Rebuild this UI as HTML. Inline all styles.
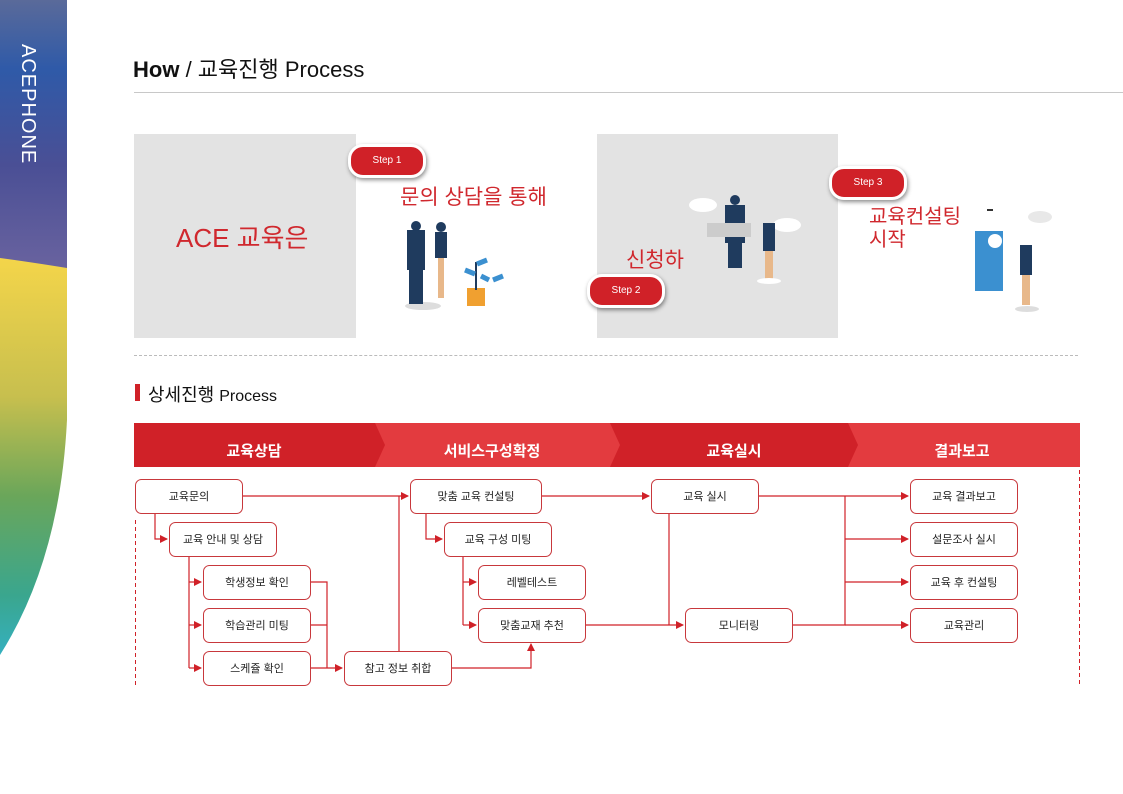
<!DOCTYPE html>
<html><head><meta charset="utf-8"><style>
body{margin:0;width:1123px;height:794px;background:#fff;overflow:hidden;position:relative;font-family:"Liberation Sans","Noto Sans CJK KR",sans-serif}
.a{position:absolute}
.step{position:absolute;width:72px;height:28px;border-radius:15px;background:#d02128;border:3px solid #fff;box-shadow:1px 2px 4px rgba(0,0,0,.45);color:#fff;font-size:10px;text-align:center;line-height:28px}
.red{color:#d0282e}
</style></head><body>
<svg class="a" style="left:0;top:0" width="70" height="794">
<defs>
<linearGradient id="g1" x1="0" y1="0" x2="0" y2="1"><stop offset="0" stop-color="#5a6a9a"/><stop offset=".25" stop-color="#2f5aa8"/><stop offset=".6" stop-color="#4a4f95"/><stop offset="1" stop-color="#6b64a0"/></linearGradient>
<linearGradient id="g2" x1="0" y1="0" x2="0" y2="1"><stop offset="0" stop-color="#f4d54a"/><stop offset=".35" stop-color="#c7bf4e"/><stop offset=".6" stop-color="#6aa65a"/><stop offset=".85" stop-color="#3aa68e"/><stop offset="1" stop-color="#35b0bf"/></linearGradient>
</defs>
<rect x="0" y="0" width="67" height="275" fill="url(#g1)"/>
<path d="M0 258 Q30 262 67 268 L67 420 Q60 560 0 655 Z" fill="url(#g2)"/>
<text x="22" y="44" fill="#fff" font-size="20" font-family="Liberation Sans" transform="rotate(90 22 44)" letter-spacing="1">ACEPHONE</text>
</svg>

<div class="a" style="left:133px;top:52px;font-size:22px;color:#111"><b>How</b> / 교육진행 Process</div>
<div class="a" style="left:134px;top:92px;width:989px;height:1px;background:#c8c8c8"></div>

<div class="a" style="left:134px;top:134px;width:222px;height:204px;background:#e3e3e3"></div>
<div class="a red" style="left:176px;top:218px;font-size:26px">ACE 교육은</div>
<div class="step" style="left:348px;top:144px">Step 1</div>
<div class="a red" style="left:400px;top:181px;font-size:21px">문의 상담을 통해</div>
<svg class="a" style="left:395px;top:220px" width="130" height="95">
<ellipse cx="28" cy="86" rx="18" ry="4" fill="#ddd"/>
<rect x="12" y="10" width="18" height="40" fill="#1f3b5e"/><rect x="14" y="48" width="14" height="36" fill="#1f3b5e"/><circle cx="21" cy="6" r="5" fill="#1f3b5e"/>
<rect x="40" y="12" width="12" height="26" fill="#1f3b5e"/><rect x="43" y="38" width="6" height="40" fill="#e8b88a"/><circle cx="46" cy="7" r="5" fill="#1f3b5e"/>
<rect x="72" y="68" width="18" height="18" fill="#f0a030"/><rect x="80" y="42" width="2" height="28" fill="#1f3b5e"/>
<path d="M70 50 l10 4 M82 44 l10-4 M98 60 l10-4 M94 60 l-8-4" stroke="#3b90d0" stroke-width="5"/>
</svg>

<div class="a" style="left:597px;top:134px;width:241px;height:204px;background:#e3e3e3"></div>
<div class="a red" style="left:626px;top:244px;font-size:21px">신청하</div>
<div class="step" style="left:587px;top:274px">Step 2</div>
<svg class="a" style="left:685px;top:195px" width="120" height="90">
<ellipse cx="18" cy="10" rx="14" ry="7" fill="#fff"/><ellipse cx="102" cy="30" rx="14" ry="7" fill="#fff"/>
<rect x="40" y="10" width="20" height="38" fill="#1f3b5e"/><rect x="43" y="48" width="14" height="25" fill="#1f3b5e"/><circle cx="50" cy="5" r="5" fill="#1f3b5e"/>
<rect x="22" y="28" width="44" height="14" fill="#ccc"/>
<rect x="78" y="28" width="12" height="28" fill="#1f3b5e"/><rect x="80" y="56" width="8" height="28" fill="#e8b88a"/><ellipse cx="84" cy="86" rx="12" ry="3" fill="#fff"/>
</svg>
<div class="step" style="left:829px;top:166px">Step 3</div>
<div class="a red" style="left:869px;top:206px;font-size:20px;line-height:23px">교육컨설팅<br>시작</div>
<svg class="a" style="left:965px;top:205px" width="95" height="110">
<ellipse cx="75" cy="12" rx="12" ry="6" fill="#e8e8e8"/>
<rect x="22" y="4" width="6" height="2" fill="#333"/>
<rect x="10" y="26" width="28" height="60" fill="#3b90d0"/><circle cx="30" cy="36" r="7" fill="#fff"/>
<rect x="55" y="40" width="12" height="30" fill="#1f3b5e"/><rect x="57" y="70" width="8" height="30" fill="#e8b88a"/><ellipse cx="62" cy="104" rx="12" ry="3" fill="#ddd"/>
</svg>

<div class="a" style="left:134px;top:355px;width:944px;border-top:1px dashed #bbb"></div>
<div class="a" style="left:135px;top:384px;width:5px;height:17px;background:#d02128"></div>
<div class="a" style="left:148px;top:381px;font-size:18px;color:#111">상세진행 <span style="font-size:16px">Process</span></div>

<svg class="a" style="left:0;top:0" width="1123" height="794" font-family="Liberation Sans, Noto Sans CJK KR, sans-serif">
<defs><marker id="ar" markerWidth="8" markerHeight="8" refX="7" refY="4" orient="auto" markerUnits="userSpaceOnUse"><path d="M0 0 L8 4 L0 8 Z" fill="#d02128"/></marker></defs>
<rect x="134" y="423" width="946" height="44" fill="#e33b3f"/>
<path d="M134 423 H375 L385 445 L375 467 H134 Z" fill="#d02128"/>
<path d="M610 423 H848 L858 445 L848 467 H610 L620 445 Z" fill="#d02128"/>
<g fill="#fff" font-size="15" font-weight="bold" text-anchor="middle">
<text x="254" y="456">교육상담</text><text x="492" y="456">서비스구성확정</text><text x="734" y="456">교육실시</text><text x="962" y="456">결과보고</text></g>
<line x1="135.5" y1="520" x2="135.5" y2="686" stroke="#d02128" stroke-width="1" stroke-dasharray="4,3"/>
<line x1="1079.5" y1="470" x2="1079.5" y2="686" stroke="#d02128" stroke-width="1" stroke-dasharray="4,3"/>
<g fill="none" stroke="#d02128" stroke-width="1.2">
<path d="M242 496 H408" marker-end="url(#ar)"/>
<path d="M399 651 V496"/>
<path d="M155 513 V539 H167" marker-end="url(#ar)"/>
<path d="M189 556 V668"/>
<path d="M189 582 H201" marker-end="url(#ar)"/><path d="M189 625 H201" marker-end="url(#ar)"/><path d="M189 668 H201" marker-end="url(#ar)"/>
<path d="M310 582 H327 V668 M310 625 H327"/><path d="M310 668 H342" marker-end="url(#ar)"/>
<path d="M451 668 H531 V644" marker-end="url(#ar)"/>
<path d="M426 513 V539 H442" marker-end="url(#ar)"/>
<path d="M463 556 V625"/><path d="M463 582 H476" marker-end="url(#ar)"/><path d="M463 625 H476" marker-end="url(#ar)"/>
<path d="M541 496 H649" marker-end="url(#ar)"/>
<path d="M585 625 H683" marker-end="url(#ar)"/><path d="M669 513 V625"/>
<path d="M758 496 H908" marker-end="url(#ar)"/>
<path d="M792 625 H845 V496"/><path d="M845 539 H908" marker-end="url(#ar)"/><path d="M845 582 H908" marker-end="url(#ar)"/><path d="M845 625 H908" marker-end="url(#ar)"/>
</g>
<g fill="#fff" stroke="#c8383c" stroke-width="1">
<rect x="135.5" y="479.5" width="107" height="34" rx="6"/><rect x="169.5" y="522.5" width="107" height="34" rx="6"/>
<rect x="203.5" y="565.5" width="107" height="34" rx="6"/><rect x="203.5" y="608.5" width="107" height="34" rx="6"/><rect x="203.5" y="651.5" width="107" height="34" rx="6"/>
<rect x="344.5" y="651.5" width="107" height="34" rx="6"/>
<rect x="410.5" y="479.5" width="131" height="34" rx="6"/><rect x="444.5" y="522.5" width="107" height="34" rx="6"/>
<rect x="478.5" y="565.5" width="107" height="34" rx="6"/><rect x="478.5" y="608.5" width="107" height="34" rx="6"/>
<rect x="651.5" y="479.5" width="107" height="34" rx="6"/><rect x="685.5" y="608.5" width="107" height="34" rx="6"/>
<rect x="910.5" y="479.5" width="107" height="34" rx="6"/><rect x="910.5" y="522.5" width="107" height="34" rx="6"/>
<rect x="910.5" y="565.5" width="107" height="34" rx="6"/><rect x="910.5" y="608.5" width="107" height="34" rx="6"/>
</g>
<g fill="#222" font-size="11" text-anchor="middle">
<text x="189" y="500">교육문의</text><text x="223" y="543">교육 안내 및 상담</text>
<text x="257" y="586">학생정보 확인</text><text x="257" y="629">학습관리 미팅</text><text x="257" y="672">스케쥴 확인</text>
<text x="398" y="672">참고 정보 취합</text>
<text x="476" y="500">맞춤 교육 컨설팅</text><text x="498" y="543">교육 구성 미팅</text>
<text x="532" y="586">레벨테스트</text><text x="532" y="629">맞춤교재 추천</text>
<text x="705" y="500">교육 실시</text><text x="739" y="629">모니터링</text>
<text x="964" y="500">교육 결과보고</text><text x="964" y="543">설문조사 실시</text>
<text x="964" y="586">교육 후 컨설팅</text><text x="964" y="629">교육관리</text>
</g>
</svg>
</body></html>
